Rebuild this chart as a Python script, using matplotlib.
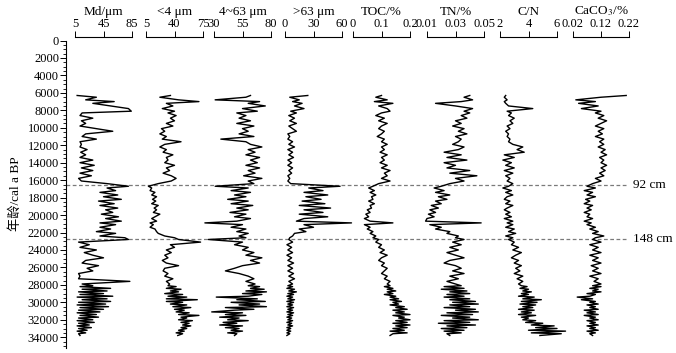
import matplotlib
matplotlib.use("Agg")
import matplotlib.pyplot as plt
from matplotlib.ticker import MultipleLocator

# Fonts: Times-like serif, CJK fallback for the axis label
plt.rcParams['font.family'] = ['Liberation Serif', 'Noto Sans CJK SC']
plt.rcParams['mathtext.fontset'] = 'stix'

# Sample ages (cal a BP), shared by all proxies
age = [6300, 6500, 6800, 7000, 7200, 7500, 7800, 8100, 8300, 8600,
       8900, 9200, 9500, 9800, 10100, 10400, 10700, 11000, 11300, 11600,
       11900, 12200, 12500, 12800, 13100, 13400, 13700, 14000, 14300, 14600,
       14900, 15200, 15500, 15800, 16100, 16400,
       16700, 16900, 17200, 17400, 17700, 17900, 18200, 18400, 18700, 18900,
       19200, 19400, 19700, 19900, 20200, 20400, 20700, 20900, 21100, 21400,
       21600, 21900, 22100, 22400, 22600,
       22800, 23100, 23400, 23700, 24000, 24300, 24600, 24900, 25200, 25500,
       25800, 26100, 26400, 26700, 27000, 27300, 27600, 27900,
       28100, 28200, 28400, 28500, 28700, 28800, 29000, 29100, 29300, 29400,
       29600, 29700, 29900, 30000, 30200, 30300, 30500, 30600, 30800, 30900,
       31100, 31200, 31400, 31500, 31700, 31800, 32000, 32100, 32300, 32400,
       32600, 32700, 32900, 33000, 33200, 33300, 33500, 33600, 33800]

md = [8, 35, 20, 60, 30, 55, 80, 84, 15, 12,
      30, 14, 20, 12, 35, 58, 20, 15, 35, 12,
      14, 12, 22, 13, 20, 12, 30, 12, 32, 14,
      30, 12, 28, 10, 14, 50,
      80, 50, 62, 40, 65, 45, 70, 38, 60, 40,
      65, 48, 58, 42, 66, 48, 70, 40, 62, 40,
      55, 35, 62, 40, 75,
      80, 10, 25, 12, 35, 18, 30, 45, 20, 15,
      38, 22, 30, 10, 12, 10, 82, 15,
      30, 12, 55, 15, 50, 10, 45, 12, 58, 8,
      50, 15, 55, 10, 48, 8, 52, 12, 45, 10,
      40, 8, 35, 12, 38, 10, 30, 8, 32, 10,
      25, 8, 28, 10, 22, 8, 20, 10, 12]

clay = [35, 22, 45, 70, 30, 38, 25, 40, 32, 42,
        35, 40, 30, 38, 24, 28, 22, 30, 25, 48,
        28, 22, 30, 26, 38, 30, 32, 28, 40, 30,
        34, 26, 36, 42, 36, 20,
        8, 12, 10, 16, 12, 18, 13, 17, 12, 20,
        15, 18, 14, 22, 16, 12, 18, 10, 14, 10,
        16, 18, 20, 28, 40,
        45, 72, 35, 40, 30, 36, 28, 32, 25, 30,
        45, 28, 26, 32, 28, 38, 30, 34,
        32, 42, 30, 48, 35, 45, 28, 50, 32, 55,
        30, 68, 30, 50, 35, 55, 38, 60, 40, 52,
        42, 58, 45, 70, 48, 55, 45, 62, 48, 58,
        50, 60, 48, 55, 45, 52, 42, 50, 44]

silt = [62, 58, 31, 70, 60, 75, 55, 68, 50, 58,
        52, 62, 50, 65, 55, 60, 52, 65, 36, 58,
        62, 72, 60, 66, 58, 70, 62, 68, 58, 70,
        60, 66, 56, 72, 60, 65,
        31, 60, 45, 62, 48, 58, 42, 60, 45, 64,
        50, 60, 44, 58, 48, 62, 50, 22, 55, 45,
        58, 50, 60, 52, 58,
        25, 55, 48, 60, 55, 65, 58, 72, 62, 70,
        55, 48, 40, 52, 60, 65, 58, 66,
        60, 70, 62, 74, 58, 76, 55, 72, 60, 32,
        68, 50, 75, 45, 70, 52, 76, 40, 65, 48,
        28, 55, 40, 58, 35, 52, 42, 60, 38, 50,
        35, 55, 40, 52, 45, 55, 42, 50, 48]

sand = [24, 5, 15, 8, 18, 10, 20, 6, 12, 4,
        10, 5, 12, 4, 8, 12, 3, 5, 3, 8,
        4, 10, 3, 8, 4, 9, 3, 7, 3, 8,
        4, 7, 3, 5, 3, 6,
        58, 25, 40, 20, 45, 22, 38, 18, 42, 15,
        48, 20, 40, 15, 45, 20, 12, 70, 20, 30,
        15, 22, 10, 8, 5,
        4, 8, 2, 7, 3, 8, 2, 7, 3, 9,
        3, 8, 3, 9, 4, 10, 4, 8,
        3, 8, 2, 10, 4, 12, 3, 9, 2, 8,
        3, 10, 2, 9, 3, 8, 2, 9, 3, 8,
        2, 9, 3, 8, 2, 7, 3, 8, 2, 7,
        3, 8, 2, 6, 2, 6, 2, 5, 2]

toc = [0.10, 0.08, 0.12, 0.075, 0.14, 0.09, 0.12, 0.13, 0.10, 0.08,
       0.11, 0.09, 0.12, 0.10, 0.09, 0.11, 0.10, 0.085, 0.11, 0.10,
       0.12, 0.10, 0.11, 0.095, 0.12, 0.10, 0.11, 0.095, 0.12, 0.10,
       0.13, 0.11, 0.12, 0.10, 0.13, 0.09,
       0.07, 0.055, 0.075, 0.06, 0.08, 0.065, 0.07, 0.055, 0.075, 0.06,
       0.065, 0.05, 0.06, 0.045, 0.055, 0.04, 0.06, 0.14, 0.04, 0.06,
       0.05, 0.07, 0.06, 0.08, 0.07,
       0.09, 0.08, 0.10, 0.09, 0.11, 0.095, 0.12, 0.10, 0.09, 0.11,
       0.10, 0.12, 0.11, 0.10, 0.12, 0.11, 0.13, 0.12,
       0.13, 0.11, 0.14, 0.12, 0.15, 0.12, 0.14, 0.11, 0.15, 0.13,
       0.16, 0.13, 0.17, 0.14, 0.16, 0.13, 0.18, 0.15, 0.19, 0.14,
       0.18, 0.15, 0.20, 0.14, 0.18, 0.16, 0.20, 0.15, 0.19, 0.14,
       0.20, 0.15, 0.19, 0.14, 0.18, 0.13, 0.19, 0.14, 0.13]

tn = [0.040, 0.036, 0.042, 0.034, 0.016, 0.030, 0.042, 0.036, 0.040, 0.034,
      0.038, 0.030, 0.034, 0.028, 0.036, 0.032, 0.038, 0.030, 0.034, 0.032,
      0.028, 0.036, 0.032, 0.022, 0.034, 0.024, 0.038, 0.022, 0.030, 0.024,
      0.040, 0.026, 0.045, 0.030, 0.036, 0.026,
      0.020, 0.015, 0.022, 0.016, 0.026, 0.018, 0.024, 0.016, 0.020, 0.013,
      0.018, 0.012, 0.016, 0.011, 0.015, 0.010, 0.009, 0.048, 0.012, 0.020,
      0.016, 0.026, 0.024, 0.032, 0.030,
      0.036, 0.028, 0.034, 0.026, 0.032, 0.024, 0.030, 0.036, 0.026, 0.022,
      0.030, 0.034, 0.028, 0.036, 0.026, 0.032, 0.024, 0.030,
      0.034, 0.022, 0.036, 0.020, 0.038, 0.026, 0.040, 0.024, 0.036, 0.022,
      0.040, 0.026, 0.044, 0.028, 0.046, 0.026, 0.040, 0.022, 0.044, 0.030,
      0.046, 0.024, 0.042, 0.020, 0.040, 0.028, 0.046, 0.022, 0.040, 0.018,
      0.044, 0.024, 0.038, 0.020, 0.036, 0.022, 0.034, 0.024, 0.026]

cn = [2.4, 2.3, 2.5, 2.3, 2.4, 2.6, 4.3, 2.5, 2.8, 2.6,
      3.0, 2.7, 2.9, 2.5, 2.7, 2.4, 2.6, 2.5, 2.7, 2.6,
      2.9, 3.6, 3.2, 3.7, 2.3, 3.0, 2.2, 2.8, 2.4, 3.0,
      2.3, 2.9, 2.4, 2.7, 2.5, 2.9,
      2.6, 2.2, 2.8, 2.4, 2.9, 2.5, 2.3, 2.7, 2.4, 2.9,
      2.5, 2.3, 2.7, 2.4, 2.8, 2.3, 2.9, 2.5, 2.9, 2.4,
      3.0, 2.6, 3.1, 2.4, 2.9,
      2.6, 3.0, 2.8, 3.3, 2.9, 3.5, 3.1, 2.8, 3.3, 3.0,
      3.5, 3.1, 3.4, 3.0, 3.6, 3.2, 3.6, 3.3,
      3.5, 3.9, 3.4, 4.0, 3.6, 4.2, 3.5, 4.0, 3.3, 4.4,
      3.6, 4.9, 3.5, 4.6, 3.4, 4.5, 3.6, 4.3, 3.3, 4.4,
      3.5, 4.2, 3.3, 4.5, 3.5, 4.0, 3.6, 4.5, 3.8, 5.0,
      4.2, 5.8, 4.5, 6.0, 4.0, 6.6, 4.2, 6.3, 4.8]

caco3 = [0.21, 0.12, 0.03, 0.10, 0.04, 0.11, 0.05, 0.12, 0.10, 0.13,
         0.11, 0.14, 0.12, 0.10, 0.13, 0.11, 0.125, 0.10, 0.13, 0.115,
         0.13, 0.11, 0.135, 0.12, 0.14, 0.115, 0.13, 0.12, 0.14, 0.12,
         0.135, 0.115, 0.13, 0.10, 0.12, 0.09,
         0.07, 0.10, 0.06, 0.09, 0.07, 0.10, 0.065, 0.08, 0.06, 0.09,
         0.07, 0.085, 0.06, 0.08, 0.07, 0.09, 0.06, 0.085, 0.07, 0.10,
         0.08, 0.11, 0.09, 0.13, 0.10,
         0.09, 0.12, 0.08, 0.11, 0.09, 0.12, 0.08, 0.11, 0.09, 0.12,
         0.085, 0.11, 0.09, 0.12, 0.08, 0.11, 0.095, 0.12,
         0.09, 0.12, 0.08, 0.11, 0.09, 0.12, 0.07, 0.10, 0.08, 0.035,
         0.09, 0.05, 0.10, 0.08, 0.11, 0.07, 0.10, 0.08, 0.11, 0.06,
         0.10, 0.07, 0.11, 0.06, 0.10, 0.08, 0.11, 0.07, 0.10, 0.08,
         0.11, 0.07, 0.10, 0.08, 0.11, 0.07, 0.10, 0.08, 0.09]

series = [md, clay, silt, sand, toc, tn, cn, caco3]
names = ['Md/μm', '<4 μm', '4~63 μm', '>63 μm', 'TOC/%', 'TN/%', 'C/N', 'CaCO$_3$/%']
tick_values = [[5, 45, 85], [5, 40, 75], [30, 55, 80], [0, 30, 60],
               [0, 0.1, 0.2], [0.01, 0.03, 0.05], [2, 4, 6], [0.02, 0.12, 0.22]]
tick_labels = [['5', '45', '85'], ['5', '40', '75'], ['30', '55', '80'], ['0', '30', '60'],
               ['0', '0.1', '0.2'], ['0.01', '0.03', '0.05'], ['2', '4', '6'],
               ['0.02', '0.12', '0.22']]

# Unit boundaries (age of the dashed lines) and their depth labels
boundary_age = [16600, 22700]
boundary_label = ['92 cm', '148 cm']

# Layout in pixels
W, H = 676, 353
panel_px = [(75, 132), (146, 203), (214, 271), (285, 342),
            (353, 410), (427, 484), (500, 557), (573, 629)]
y_top, y_bot = 40.5, 347.7          # pixel rows of age 0 and age 35200
age_max = 35200
bar_y = 37                          # pixel row of the top scale bars


def px_box(x0, x1, top, bottom):
    return [x0 / W, 1 - bottom / H, (x1 - x0) / W, (bottom - top) / H]


fig = plt.figure(figsize=(W / 100, H / 100), dpi=100)

# Main axis: age scale on the left and the dashed boundaries
ax = fig.add_axes(px_box(66, 628, y_top, y_bot))
ax.set_ylim(age_max, 0)
ax.set_xlim(0, 1)
for s in ['top', 'right', 'bottom']:
    ax.spines[s].set_visible(False)
ax.spines['left'].set_linewidth(0.8)
ax.set_xticks([])
ax.yaxis.set_minor_locator(MultipleLocator(500))
ax.set_yticks(range(0, 34001, 2000))
ax.tick_params(axis='y', which='major', length=4, width=0.7, labelsize=9, pad=1)
ax.tick_params(axis='y', which='minor', length=2, width=0.6)
ax.set_ylabel('年龄/cal a BP', fontsize=9.5)
ax.yaxis.set_label_coords(-0.078, 0.5)

for a, lab in zip(boundary_age, boundary_label):
    ax.axhline(a, xmin=0, xmax=1, color='#7a7a7a', lw=0.9, ls=(0, (3, 2)))
    ax.text(1.009, a, lab, transform=ax.get_yaxis_transform(),
            va='center', ha='left', fontsize=9.5)

# One narrow panel per proxy, with its own scale bar on top
span = age_max * (y_top - bar_y) / (y_bot - y_top)
for (x0, x1), vals, name, tv, tl in zip(panel_px, series, names, tick_values, tick_labels):
    p = fig.add_axes(px_box(x0, x1, bar_y, y_bot))
    p.patch.set_visible(False)
    p.set_ylim(age_max, -span)
    p.set_xlim(tv[0], tv[-1])
    for s in ['left', 'right', 'bottom']:
        p.spines[s].set_visible(False)
    p.spines['top'].set_linewidth(0.8)
    p.set_yticks([])
    p.xaxis.tick_top()
    p.set_xticks(tv)
    p.set_xticklabels(tl)
    p.tick_params(axis='x', direction='out', length=4, width=0.7, labelsize=9, pad=1)
    p.xaxis.set_label_position('top')
    p.set_xlabel(name, fontsize=9.5, labelpad=2.5)
    p.plot(vals, age, color='black', lw=1.0, clip_on=False)

fig.savefig('out.png', dpi=100)
